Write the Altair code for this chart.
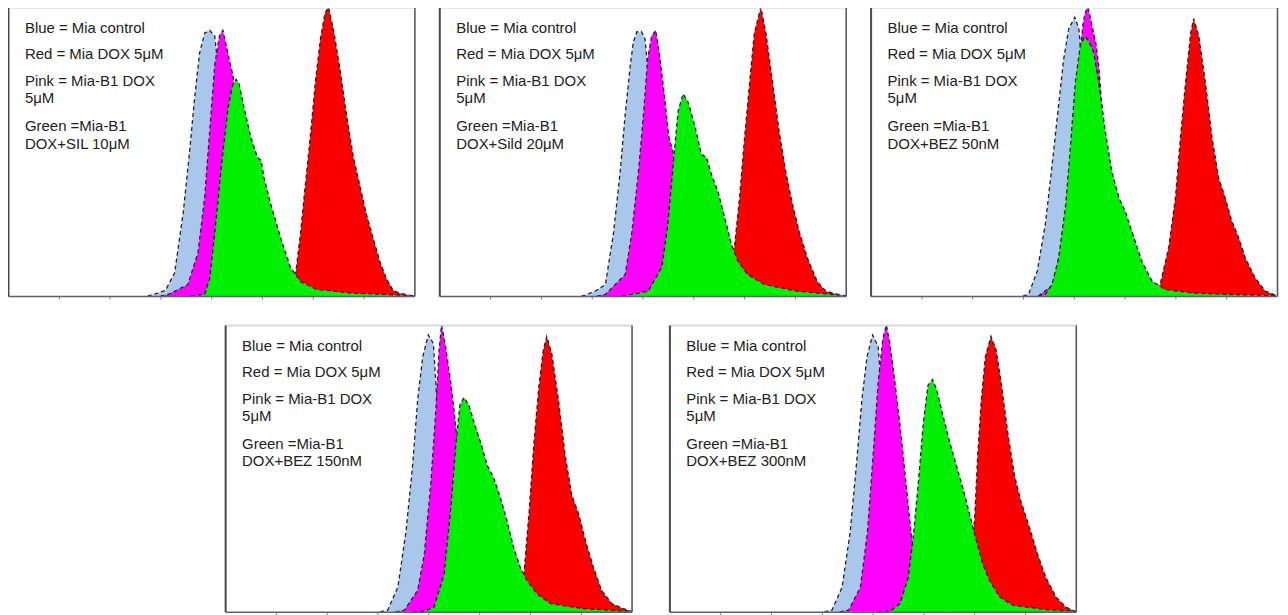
import altair as alt
import pandas as pd

# ---------------- text ----------------
LEGEND_LINES = ["Blue = Mia control", "Red = Mia DOX 5μM", "Pink = Mia-B1 DOX", "5μM", "Green =Mia-B1"]
GREEN_TREATMENTS = ["DOX+SIL 10μM", "DOX+Sild 20μM", "DOX+BEZ 50nM", "DOX+BEZ 150nM", "DOX+BEZ 300nM"]
TICK_VALUES = [1, 2, 3, 4, 5, 6, 7]

# ---------------- histogram outlines (x: log fluorescence units 0-8, y: % of max count) ----------------
P1_BLUE = [(2.75, 0), (2.95, 1), (3.1, 2), (3.28, 8), (3.45, 29), (3.58, 51), (3.67, 68), (3.77, 84), (3.87, 91), (3.97, 92), (4.07, 90), (4.2, 68), (4.4, 22), (4.6, 3), (4.8, 0)]
P1_PINK = [(3.0, 0), (3.15, 0.5), (3.54, 4), (3.74, 15), (3.87, 34), (3.97, 57), (4.07, 80), (4.16, 90), (4.23, 92), (4.33, 84), (4.42, 77), (4.5, 68), (4.6, 45), (4.85, 13), (5.1, 1.5), (5.4, 0)]
P1_GREEN = [(3.6, 0), (3.87, 0.6), (3.97, 6), (4.07, 22), (4.2, 45), (4.33, 65), (4.42, 73), (4.49, 75), (4.55, 73.5), (4.65, 65), (4.78, 55), (4.91, 48), (4.98, 47), (5.04, 41), (5.17, 32), (5.37, 20), (5.56, 10), (5.76, 5), (6.08, 2.3), (6.73, 1.1), (7.38, 0.6), (7.9, 0.2), (8, 0)]
P1_RED = [(5.3, 0), (5.5, 2.5), (5.66, 7.5), (5.76, 22), (5.85, 38), (5.95, 55), (6.05, 74), (6.15, 89), (6.24, 98), (6.31, 100), (6.41, 92), (6.54, 78), (6.67, 62), (6.8, 48), (6.93, 38), (7.06, 28), (7.19, 20), (7.32, 12), (7.45, 6), (7.58, 2), (7.71, 1), (7.9, 0.3), (8, 0)]

P2_BLUE = [(2.8, 0), (2.87, 0.3), (3.07, 1.7), (3.27, 4), (3.43, 22), (3.56, 43), (3.66, 63), (3.76, 80), (3.82, 88), (3.89, 91.5), (3.98, 91.5), (4.05, 89), (4.2, 60), (4.4, 15), (4.6, 0)]
P2_PINK = [(3.1, 0), (3.27, 0.6), (3.66, 7.5), (3.79, 22), (3.92, 43), (4.02, 63), (4.1, 82), (4.18, 90), (4.26, 92), (4.34, 83), (4.44, 68), (4.52, 55), (4.6, 50), (4.8, 20), (5.0, 5), (5.3, 0)]
P2_GREEN = [(3.6, 0), (3.79, 0.6), (4.11, 1.7), (4.38, 10), (4.5, 25), (4.6, 45), (4.7, 64), (4.8, 70), (4.9, 67), (5.03, 59), (5.16, 49), (5.26, 48), (5.36, 42), (5.49, 36), (5.62, 27), (5.75, 18), (5.88, 12), (6.07, 7.5), (6.4, 4), (7.05, 1.7), (7.71, 0.6), (7.97, 0.2), (8, 0)]
P2_RED = [(5.4, 0), (5.6, 4), (5.81, 17), (5.91, 34), (6.01, 55), (6.11, 74), (6.2, 91), (6.33, 100), (6.43, 91), (6.56, 74), (6.69, 57), (6.82, 43), (6.95, 32), (7.09, 22), (7.25, 13), (7.44, 5), (7.61, 1.7), (7.9, 0.3), (8, 0)]

P3_BLUE = [(3.0, 0), (3.11, 0.6), (3.28, 8.6), (3.44, 25), (3.57, 45), (3.7, 66), (3.8, 82), (3.9, 92.5), (4.02, 96.5), (4.1, 92.5), (4.3, 50), (4.6, 5), (4.8, 0)]
P3_PINK = [(3.3, 0), (3.6, 4), (3.8, 22), (3.95, 48), (4.05, 72), (4.13, 86), (4.18, 94), (4.22, 98), (4.28, 100), (4.36, 93.5), (4.44, 87), (4.49, 80), (4.6, 55), (4.9, 20), (5.2, 5), (5.5, 0)]
P3_GREEN = [(3.3, 0), (3.44, 0.6), (3.57, 4), (3.7, 13), (3.84, 31.6), (3.93, 51), (4.03, 74), (4.13, 87), (4.22, 90), (4.3, 88), (4.39, 84.5), (4.49, 74), (4.62, 57), (4.75, 43), (4.89, 34), (5.02, 29), (5.15, 22), (5.34, 12), (5.54, 5.2), (5.8, 2.3), (6.33, 1.1), (6.98, 0.6), (7.97, 0.2), (8, 0)]
P3_RED = [(5.4, 0), (5.55, 1.5), (5.7, 4), (5.87, 17), (6.0, 34), (6.1, 55), (6.2, 74), (6.3, 91), (6.36, 96), (6.46, 90), (6.59, 74), (6.72, 55), (6.85, 41), (6.98, 34), (7.11, 26), (7.25, 20), (7.38, 13), (7.57, 6.3), (7.77, 1.7), (7.93, 0.6), (8, 0)]

P4_BLUE = [(3.05, 0), (3.2, 0.6), (3.4, 8.6), (3.56, 28), (3.69, 51), (3.79, 74), (3.89, 89), (4.0, 96.5), (4.1, 93.5), (4.18, 70), (4.3, 45), (4.6, 5), (4.8, 0)]
P4_PINK = [(3.35, 0), (3.53, 0.6), (3.79, 7.5), (3.92, 20), (4.05, 45), (4.15, 71), (4.21, 91), (4.26, 100), (4.34, 92.5), (4.44, 80), (4.52, 68), (4.57, 59), (4.7, 40), (4.9, 15), (5.2, 3), (5.5, 0)]
P4_GREEN = [(3.7, 0), (3.92, 0.2), (4.11, 1.7), (4.31, 13), (4.44, 36), (4.54, 58), (4.62, 72), (4.7, 74.7), (4.8, 72), (4.9, 66), (5.03, 59), (5.16, 51), (5.29, 46.6), (5.42, 39.7), (5.55, 31.6), (5.68, 22.4), (5.81, 15.5), (5.94, 11), (6.14, 6.3), (6.4, 2.9), (7.05, 1.1), (7.97, 0.2), (8, 0)]
P4_RED = [(5.5, 0), (5.75, 5), (5.88, 13), (5.98, 34), (6.07, 57), (6.17, 77.6), (6.26, 91), (6.33, 96), (6.43, 90), (6.56, 74), (6.69, 55), (6.82, 41), (6.96, 34), (7.09, 25), (7.25, 15.5), (7.41, 7.5), (7.61, 2.9), (7.84, 1.1), (8.0, 0.2)]

P5_BLUE = [(3.05, 0), (3.2, 0.6), (3.4, 8.6), (3.56, 28), (3.69, 53), (3.79, 74), (3.89, 89), (4.0, 96.5), (4.11, 92.5), (4.2, 70), (4.35, 40), (4.6, 5), (4.8, 0)]
P5_PINK = [(3.35, 0), (3.53, 0.6), (3.76, 8.6), (3.9, 28), (4.02, 57), (4.11, 80), (4.2, 95), (4.27, 100), (4.34, 93.7), (4.44, 80), (4.54, 65), (4.64, 48), (4.73, 32), (4.8, 22), (4.9, 12), (5.1, 4), (5.4, 0)]
P5_GREEN = [(4.1, 0), (4.34, 0.2), (4.54, 2.9), (4.7, 12), (4.8, 26), (4.9, 45), (5.0, 66), (5.09, 79), (5.18, 81), (5.26, 77.6), (5.39, 68), (5.52, 59), (5.65, 51), (5.78, 43), (5.91, 34), (6.04, 25), (6.17, 16.7), (6.3, 11), (6.5, 5.2), (6.76, 2.3), (7.41, 0.8), (8.0, 0.2)]
P5_RED = [(5.6, 0), (5.85, 8), (5.95, 20), (6.01, 33), (6.07, 55), (6.14, 74), (6.22, 89), (6.33, 96), (6.43, 91.4), (6.53, 80), (6.66, 62.6), (6.79, 47.7), (6.92, 38.5), (7.09, 29.3), (7.25, 20), (7.41, 12), (7.61, 5.2), (7.8, 1.7), (7.97, 0.3), (8.0, 0)]

# ---------------- style ----------------
COLORS = {"blue": "#a9c7eb", "pink": "#ff00ff", "green": "#00f000", "red": "#fc0000"}
OUTLINE = {"color": "#22222e", "strokeDash": [4, 3], "strokeWidth": 1.3}
FONT = "Liberation Sans"
PANEL_W = 408
TOP_H = 290
BOT_H = 288
TEXT_X = 17
TEXT_Y = [21, 47.5, 74, 91.5, 119.5, 137]

XS = alt.Scale(domain=[0, 8], nice=False, zero=False)
YS = alt.Scale(domain=[0, 100], nice=False, zero=False)
NOEXT = dict(minExtent=0, maxExtent=0, offset=0, titlePadding=0, labelPadding=0)


def area_layer(points, color, with_axes=False):
    df = pd.DataFrame(points, columns=["x", "y"])
    if with_axes:
        xa = alt.Axis(orient="bottom", values=TICK_VALUES, labels=False, title=None, grid=False,
                      tickSize=3, tickColor="#7a7f88", tickWidth=1,
                      domainColor="#5c6270", domainWidth=1.6, zindex=2, **NOEXT)
        ya = alt.Axis(orient="left", labels=False, ticks=False, title=None, grid=False,
                      domainColor="#4a4a4a", domainWidth=2, zindex=2, **NOEXT)
    else:
        xa = None
        ya = None
    return alt.Chart(df).mark_area(color=color, opacity=1, line=OUTLINE).encode(
        x=alt.X("x:Q", scale=XS, axis=xa),
        y=alt.Y("y:Q", scale=YS, axis=ya),
    )


def frame_layer(points):
    df = pd.DataFrame(points, columns=["x", "y"])
    return alt.Chart(df).mark_point(opacity=0, size=1).encode(
        x=alt.X("x:Q", scale=XS, axis=alt.Axis(orient="top", labels=False, ticks=False, title=None, grid=False,
                                                 domainColor="#c4d2e2", domainWidth=1.6, zindex=2, **NOEXT)),
        y=alt.Y("y:Q", scale=YS, axis=alt.Axis(orient="right", labels=False, ticks=False, title=None, grid=False,
                                                 domainColor="#555a66", domainWidth=1.6, zindex=2, **NOEXT)),
    )


def text_layer(line, ypos):
    return alt.Chart(pd.DataFrame({"t": [line]})).mark_text(
        align="left", baseline="middle", font=FONT, fontSize=15, color="#222222"
    ).encode(x=alt.value(TEXT_X), y=alt.value(ypos), text="t:N")


def panel(blue, pink, green, red, treatment, height):
    layers = [
        area_layer(red, COLORS["red"], with_axes=True),
        area_layer(blue, COLORS["blue"]),
        area_layer(pink, COLORS["pink"]),
        area_layer(green, COLORS["green"]),
        frame_layer(blue),
    ]
    lines = LEGEND_LINES + [treatment]
    for line, ypos in zip(lines, TEXT_Y):
        layers.append(text_layer(line, ypos))
    return alt.layer(*layers).resolve_axis(x="independent", y="independent").properties(
        width=PANEL_W, height=height
    )


p1 = panel(P1_BLUE, P1_PINK, P1_GREEN, P1_RED, GREEN_TREATMENTS[0], TOP_H)
p2 = panel(P2_BLUE, P2_PINK, P2_GREEN, P2_RED, GREEN_TREATMENTS[1], TOP_H)
p3 = panel(P3_BLUE, P3_PINK, P3_GREEN, P3_RED, GREEN_TREATMENTS[2], TOP_H)
p4 = panel(P4_BLUE, P4_PINK, P4_GREEN, P4_RED, GREEN_TREATMENTS[3], BOT_H)
p5 = panel(P5_BLUE, P5_PINK, P5_GREEN, P5_RED, GREEN_TREATMENTS[4], BOT_H)

spacer = alt.Chart(pd.DataFrame({"a": [0]})).mark_point(opacity=0, size=1).encode(
    x=alt.value(90), y=alt.value(140)
).properties(width=183, height=BOT_H)

top_row = alt.hconcat(p1, p2, p3, spacing=22)
bottom_row = alt.hconcat(spacer, p4, p5, spacing=35)

chart = alt.vconcat(top_row, bottom_row, spacing=22).properties(
    padding={"top": -5, "left": 0, "right": 0, "bottom": 0}, background="white"
).configure_view(stroke=None)

chart.save("out.html", embed_options={"renderer": "svg", "actions": False})
